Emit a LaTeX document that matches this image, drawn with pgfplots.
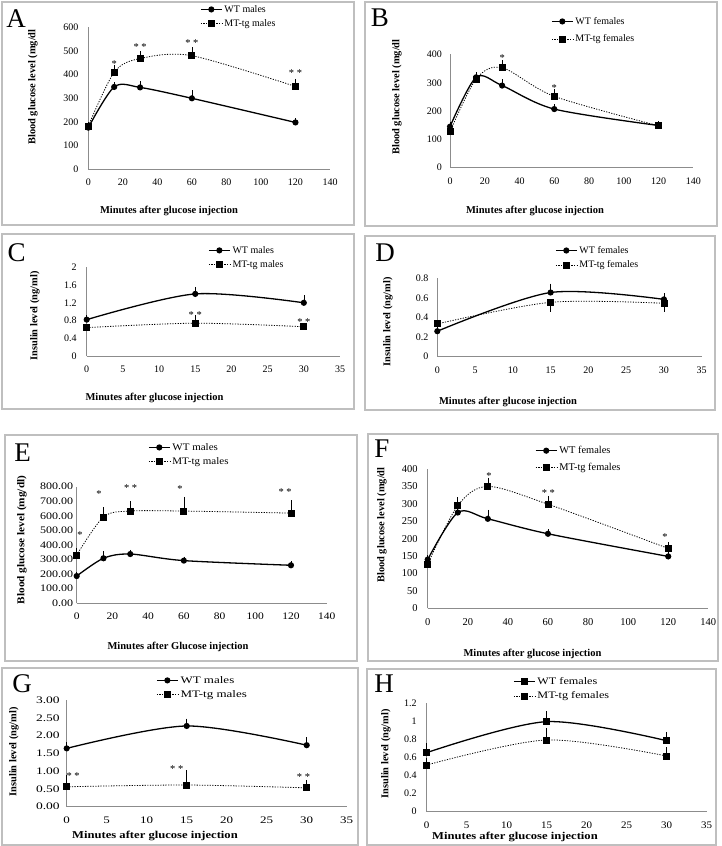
\documentclass[border=0pt]{standalone}
\usepackage{pgfplots}
\pgfplotsset{compat=1.18}
\usepackage{fontspec}
\setmainfont{Liberation Serif}
\usepackage{graphicx}
\newcommand{\hs}[2]{\scalebox{#1}[1]{#2}}
\newcommand{\fs}[1]{\fontsize{#1}{#1}\selectfont}
\tikzset{
  star/.style={font=\fs{10.5}, inner sep=0pt, yshift=-1.7pt},
  ylab/.style={rotate=90, font=\bfseries\fs{10.4}, inner sep=0pt},
  xlab/.style={font=\bfseries\fs{10.5}, inner sep=0pt},
  letter/.style={font=\fs{27}, inner sep=0pt},
  frame/.style={draw=black!25, line width=1.3pt},
}
\pgfplotsset{
  panel/.style={scale only axis, anchor=south west,
    axis x line*=bottom, axis y line*=left,
    axis line style={draw=black!45, line width=0.7pt},
    major tick length=0pt, tick style={draw=none}, clip=false,
    /pgf/number format/assume math mode=true,
    /pgf/number format/fixed, scaled ticks=false,
    tick label style={font=\fs{10}},
    xticklabel style={yshift=-6.5pt},
    legend style={draw=none, fill=none, anchor=north west, font=\fs{10}, row sep=2pt, inner sep=0pt},
    legend cell align=left,
    legend image code/.code={\draw[mark repeat=2,mark phase=2,##1] plot coordinates {(0pt,0pt) (10.5pt,0pt) (21pt,0pt)};}},
  ebars/.style={/pgfplots/error bars/y dir=plus, /pgfplots/error bars/y explicit,
    /pgfplots/error bars/error bar style={solid, line width=0.6pt, black},
    /pgfplots/error bars/error mark options={solid, line width=0.6pt, black, mark size=3pt}},
  wt/.style={black, solid, line width=1.3pt, mark=*, mark size=2.4pt, mark options={solid}, smooth, tension=0.5, ebars},
  wtsq/.style={wt, mark=square*, mark size=3pt},
  mt/.style={black, line width=0.8pt, dash pattern=on 1.2pt off 1.4pt, mark=square*, mark size=3pt, mark options={solid}, smooth, tension=0.5, ebars},
}
\begin{document}
\begin{tikzpicture}
\path[use as bounding box] (0pt,0pt) rectangle (721pt,-846pt);
\fill[white] (0pt,0pt) rectangle (721pt,-846pt);
% frames
\draw[frame] (2pt,-2pt) rectangle (354pt,-225pt);
\draw[frame] (365pt,-2pt) rectangle (717pt,-226pt);
\draw[frame] (2pt,-234pt) rectangle (354pt,-409pt);
\draw[frame] (365pt,-236pt) rectangle (715pt,-410pt);
\draw[frame] (5pt,-435pt) rectangle (357pt,-661pt);
\draw[frame] (368pt,-434pt) rectangle (718pt,-661pt);
\draw[frame] (2pt,-668pt) rectangle (358pt,-845pt);
\draw[frame] (367pt,-669pt) rectangle (716pt,-845pt);

% ---------- A ----------
\begin{axis}[panel, at={(88.3pt,-169.3pt)}, width=241.7pt, height=142pt,
  xmin=0, xmax=140, ymin=0, ymax=600, xtick={0,20,...,140}, ytick={0,100,...,600},
  yticklabel style={xshift=-6.5pt}, legend style={at={(0.462,1.171)}}]
\addplot[wt] coordinates {(0,176) +- (0,5) (15,348) +- (0,8) (30,346) +- (0,14) (60,300) +- (0,22) (120,198) +- (0,5)};
\addlegendentry{WT males}
\addplot[mt] coordinates {(0,183) +- (0,5) (15,410) +- (0,18) (30,468) +- (0,18) (60,480) +- (0,24) (120,350) +- (0,19)};
\addlegendentry{MT-tg males}
\node[star] at (axis cs:15,452) {*};
\node[star] at (axis cs:30,522) {* *};
\node[star] at (axis cs:60,539) {* *};
\node[star] at (axis cs:120,413) {* *};
\end{axis}
\node[letter] at (16pt,-19pt) {A};
\node[ylab] at (33pt,-87pt) {Blood glucose level (mg/dl};
\node[xlab] at (169pt,-211pt) {Minutes after glucose injection};

% ---------- B ----------
\begin{axis}[panel, at={(450pt,-167.7pt)}, width=243.3pt, height=113.3pt,
  xmin=0, xmax=140, ymin=0, ymax=400, xtick={0,20,...,140}, ytick={0,100,...,400},
  yticklabel style={xshift=-4.5pt}, legend style={at={(0.415,1.348)}, row sep=5pt}]
\addplot[wt] coordinates {(0,145) +- (0,5) (15,319) +- (0,8) (30,290) +- (0,12) (60,207) +- (0,6) (120,149) +- (0,4)};
\addlegendentry{WT females}
\addplot[mt] coordinates {(0,127) +- (0,5) (15,313) +- (0,10) (30,353) +- (0,15) (60,252) +- (0,14) (120,148) +- (0,4)};
\addlegendentry{MT-tg females}
\node[star] at (axis cs:30,392) {*};
\node[star] at (axis cs:60,288) {*};
\end{axis}
\node[letter] at (380pt,-18pt) {B};
\node[ylab] at (397pt,-97pt) {Blood glucose level (mg/dl};
\node[xlab] at (535pt,-211pt) {Minutes after glucose injection};

% ---------- C ----------
\begin{axis}[panel, at={(86.7pt,-356pt)}, width=253.3pt, height=88.7pt,
  xmin=0, xmax=35, ymin=0, ymax=2, xtick={0,5,...,35}, ytick={0,0.4,0.8,1.2,1.6,2},
  yticklabel style={xshift=-6.5pt}, legend style={at={(0.479,1.263)}}]
\addplot[wt] coordinates {(0,0.82) +- (0,0.03) (15,1.40) +- (0,0.09) (30,1.20) +- (0,0.10)};
\addlegendentry{WT males}
\addplot[mt] coordinates {(0,0.64) +- (0,0.02) (15,0.74) +- (0,0.11) (30,0.66) +- (0,0.02)};
\addlegendentry{MT-tg males}
\node[star] at (axis cs:15,0.96) {* *};
\node[star] at (axis cs:30,0.81) {* *};
\end{axis}
\node[letter] at (16.7pt,-252.5pt) {C};
\node[ylab] at (35pt,-316pt) {Insulin level (ng/ml)};
\node[xlab] at (154.5pt,-398pt) {Minutes after glucose injection};

% ---------- D ----------
\begin{axis}[panel, at={(437.3pt,-356.7pt)}, width=264.4pt, height=78.4pt,
  xmin=0, xmax=35, ymin=0, ymax=0.8, xtick={0,5,...,35}, ytick={0,0.2,0.4,0.6,0.8},
  yticklabel style={xshift=-5.5pt}, legend style={at={(0.445,1.437)}}]
\addplot[wt] coordinates {(0,0.26) +- (0,0.01) (15,0.655) +- (0,0.06) (30,0.585) +- (0,0.03)};
\addlegendentry{WT females}
\addplot[mt, /pgfplots/error bars/y dir=minus] coordinates {(0,0.335) +- (0,0.02) (15,0.555) +- (0,0.065) (30,0.545) +- (0,0.055)};
\addlegendentry{MT-tg females}
\end{axis}
\node[letter] at (385pt,-253pt) {D};
\node[ylab] at (388pt,-322pt) {Insulin level (ng/ml)};
\node[xlab] at (508pt,-402pt) {Minutes after glucose injection};

% ---------- E ----------
\begin{axis}[panel, at={(76.7pt,-603.3pt)}, width=250pt, height=116.6pt,
  xmin=0, xmax=140, ymin=0, ymax=800, xtick={0,20,...,140}, ytick={0,100,...,800},
  yticklabel style={xshift=0pt, /pgf/number format/.cd, fixed, fixed zerofill, precision=2},
  yticklabel={\hs{1.2}{\pgfmathprintnumber{\tick}}},
  xticklabel={\hs{1.15}{\pgfmathprintnumber{\tick}}},
  legend style={at={(0.285,1.392)}}]
\addplot[wt] coordinates {(0,187) +- (0,5) (15,309) +- (0,27) (30,338) +- (0,8) (60,293) +- (0,6) (120,261) +- (0,6)};
\addlegendentry{\hs{1.1}{WT males}}
\addplot[mt] coordinates {(0,331) +- (0,28) (15,592) +- (0,48) (30,633) +- (0,46) (60,633) +- (0,76) (120,619) +- (0,67)};
\addlegendentry{\hs{1.1}{MT-tg males}}
\node[star] at (axis cs:1.9,480) {*};
\node[star] at (axis cs:12.5,759) {*};
\node[star] at (axis cs:30.2,800) {* *};
\node[star] at (axis cs:57.9,793) {*};
\node[star] at (axis cs:116.7,773) {* *};
\end{axis}
\node[letter] at (22.5pt,-453pt) {E};
\node[ylab] at (22pt,-540pt) {\hs{1.08}{Blood glucose level (mg/dl)}};
\node[xlab] at (178pt,-647pt) {Minutes after Glucose injection};

% ---------- F ----------
\begin{axis}[panel, at={(427.7pt,-608.3pt)}, width=280.6pt, height=139.3pt,
  xmin=0, xmax=140, ymin=0, ymax=400, xtick={0,20,...,140}, ytick={0,50,...,400},
  tick label style={font=\fs{10.5}},
  yticklabel style={xshift=-6.5pt}, legend style={at={(0.382,1.179)}, font=\fs{10.4}, row sep=4pt}]
\addplot[wt] coordinates {(0,140) +- (0,4) (15,275) +- (0,8) (30,257) +- (0,17) (60,214) +- (0,4) (120,149) +- (0,3)};
\addlegendentry{WT females}
\addplot[mt] coordinates {(0,127) +- (0,5) (15,295) +- (0,16) (30,350) +- (0,17) (60,299) +- (0,15) (120,172) +- (0,9)};
\addlegendentry{MT-tg females}
\node[star] at (axis cs:30.6,385) {*};
\node[star] at (axis cs:60.2,335) {* *};
\node[star] at (axis cs:118.4,210) {*};
\end{axis}
\node[letter] at (382pt,-449pt) {F};
\node[ylab] at (382pt,-525pt) {Blood glucose level (mg/dl};
\node[xlab] at (532.5pt,-654pt) {Minutes after glucose injection};

% ---------- G ----------
\begin{axis}[panel, at={(66.7pt,-806.7pt)}, width=280pt, height=106.7pt,
  xmin=0, xmax=35, ymin=0, ymax=3, xtick={0,5,...,35}, ytick={0,0.5,...,3},
  yticklabel style={xshift=-3.5pt, /pgf/number format/.cd, fixed, fixed zerofill, precision=2},
  yticklabel={\hs{1.35}{\pgfmathprintnumber{\tick}}},
  xticklabel={\hs{1.3}{\pgfmathprintnumber{\tick}}},
  legend style={at={(0.319,1.244)}}]
\addplot[wt] coordinates {(0,1.64) +- (0,0.09) (15,2.27) +- (0,0.12) (30,1.73) +- (0,0.14)};
\addlegendentry{\hs{1.3}{WT males}}
\addplot[mt] coordinates {(0,0.56) +- (0,0.24) (15,0.61) +- (0,0.33) (30,0.53) +- (0,0.14)};
\addlegendentry{\hs{1.3}{MT-tg males}}
\node[star] at (axis cs:0.8,0.91) {* *};
\node[star] at (axis cs:13.75,1.10) {* *};
\node[star] at (axis cs:29.6,0.89) {* *};
\end{axis}
\node[letter] at (22pt,-684pt) {G};
\node[ylab] at (14pt,-752pt) {Insulin level (ng/ml)};
\node[xlab] at (155pt,-836pt) {\hs{1.2}{Minutes after glucose injection}};

% ---------- H ----------
\begin{axis}[panel, at={(426.7pt,-811.7pt)}, width=280pt, height=108.4pt,
  xmin=0, xmax=35, ymin=0, ymax=1.2, xtick={0,5,...,35}, ytick={0,0.2,...,1.2},
  yticklabel style={xshift=-6.5pt},
  xticklabel={\hs{1.1}{\pgfmathprintnumber{\tick}}},
  legend style={at={(0.308,1.261)}}]
\addplot[wtsq] coordinates {(0,0.654) +- (0,0.073) (15,0.997) +- (0,0.083) (30,0.786) +- (0,0.064)};
\addlegendentry{\hs{1.22}{WT females}}
\addplot[mt] coordinates {(0,0.517) +- (0,0.04) (15,0.794) +- (0,0.10) (30,0.617) +- (0,0.063)};
\addlegendentry{\hs{1.22}{MT-tg females}}
\end{axis}
\node[letter] at (384pt,-684pt) {H};
\node[ylab] at (386pt,-754pt) {Insulin level (ng/ml)};
\node[xlab] at (515pt,-837pt) {\hs{1.2}{Minutes after glucose injection}};
\end{tikzpicture}
\end{document}
